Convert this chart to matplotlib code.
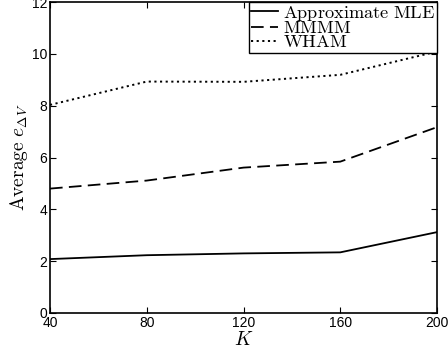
import matplotlib
matplotlib.use("Agg")
import matplotlib.pyplot as plt

K = [40, 80, 120, 160, 200]
approx_mle = [2.08, 2.23, 2.30, 2.34, 3.12]
mmmm = [4.80, 5.11, 5.61, 5.84, 7.17]
wham = [8.03, 8.93, 8.92, 9.19, 10.09]
xticks = [40, 80, 120, 160, 200]
yticks = [0, 2, 4, 6, 8, 10, 12]

plt.rcParams['mathtext.fontset'] = 'cm'
plt.rcParams['font.family'] = ['Liberation Sans', 'DejaVu Sans']

fig = plt.figure(figsize=(4.48, 3.53), dpi=100)
ax = fig.add_axes([50/448, 40/353, 387/448, 311/353])

ax.plot(K, approx_mle, color='black', lw=1.3, linestyle='-', label=r'$\mathrm{Approximate\ MLE}$')
ax.plot(K, mmmm, color='black', lw=1.3, linestyle=(0, (7, 3.5)), label=r'$\mathrm{MMMM}$')
ax.plot(K, wham, color='black', lw=1.4, linestyle=(0, (1.1, 1.8)), label=r'$\mathrm{WHAM}$')

ax.set_xlim(40, 200)
ax.set_ylim(0, 12)
ax.set_xticks(xticks)
ax.set_yticks(yticks)
ax.tick_params(direction='in', top=True, right=True, labelsize=10, length=4, width=0.8, pad=2)
for s in ax.spines.values():
    s.set_linewidth(1.2)

ax.set_xlabel(r'$K$', fontsize=14, labelpad=1)
ax.set_ylabel(r'$\mathrm{Average}\ e_{\Delta V}$', fontsize=14, labelpad=1)

leg = ax.legend(loc='upper right', borderaxespad=0, fontsize=13.2, frameon=True,
                fancybox=False, edgecolor='black', framealpha=1,
                handlelength=1.5, handletextpad=0.25, labelspacing=-0.15,
                borderpad=0.1)
leg.get_frame().set_linewidth(1.0)

fig.savefig('out.png', dpi=100)
